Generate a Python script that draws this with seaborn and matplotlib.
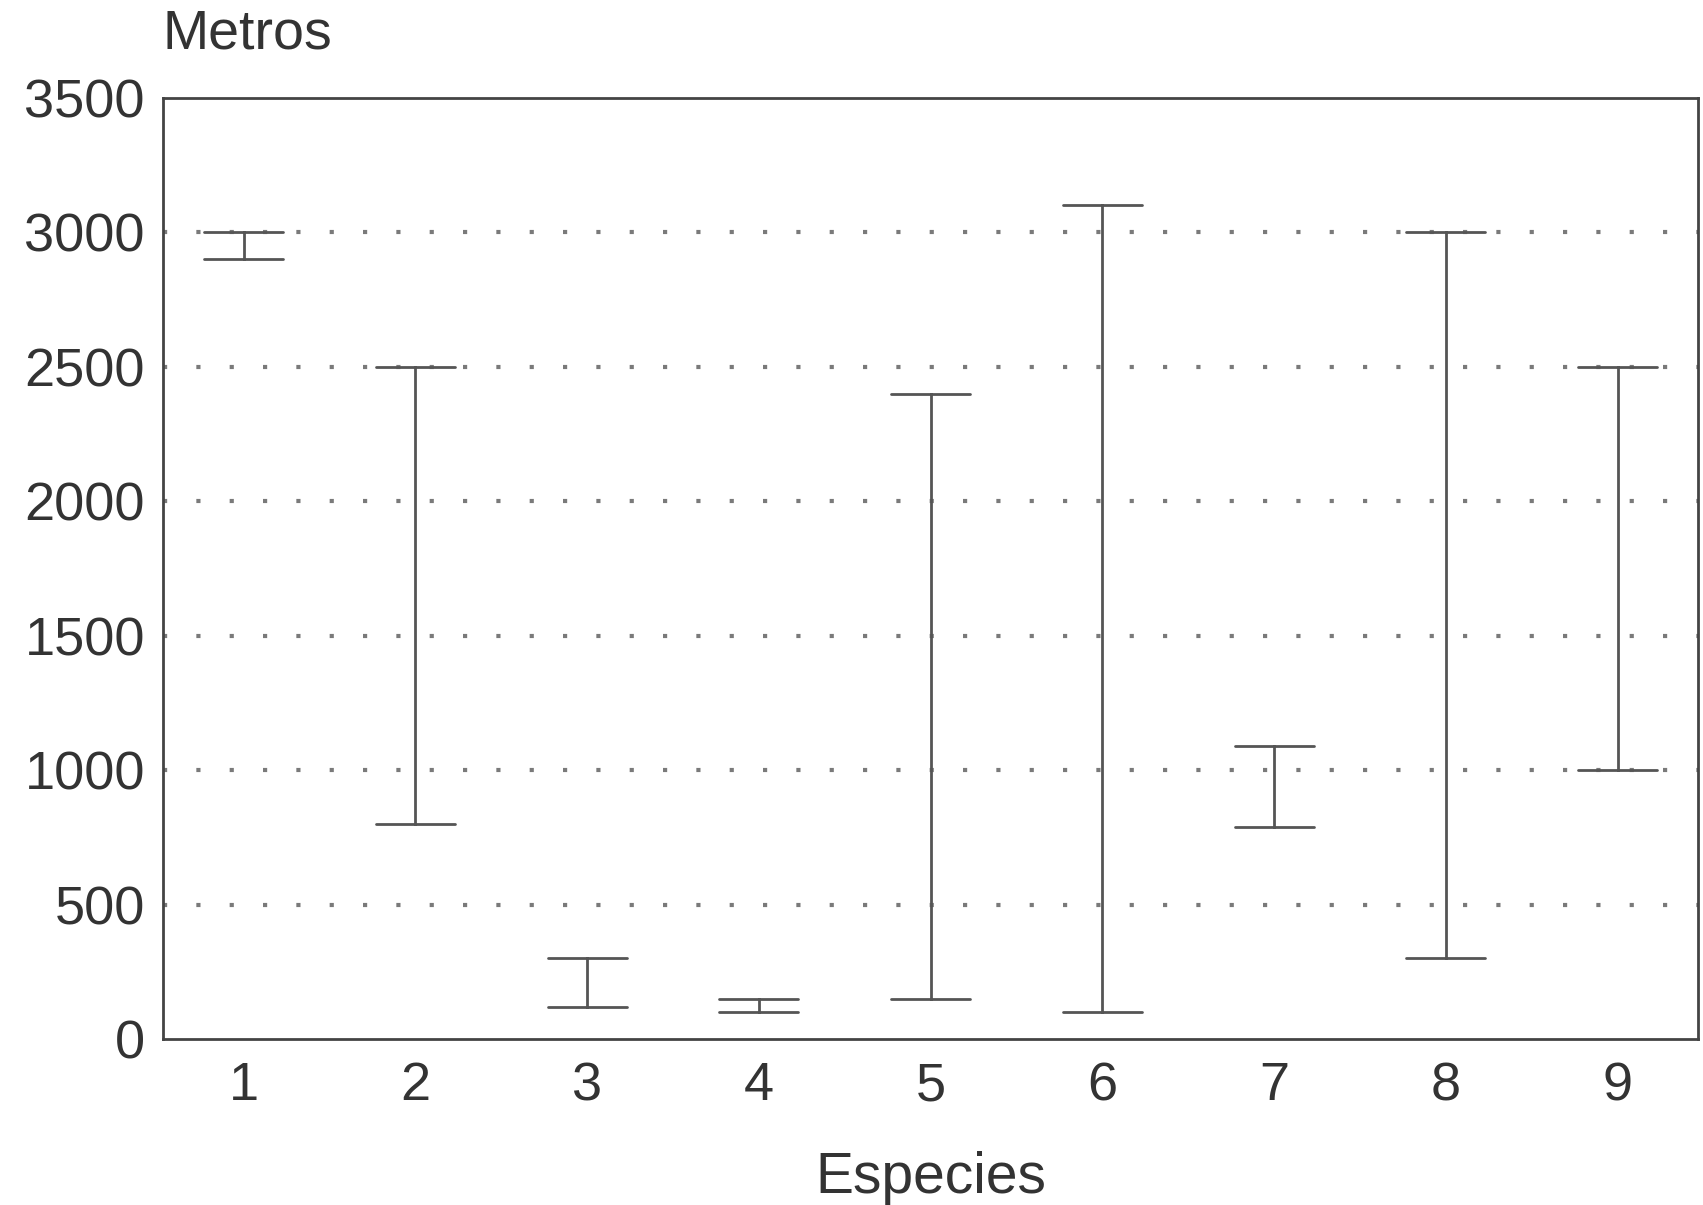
import matplotlib
matplotlib.use("Agg")
import matplotlib.pyplot as plt
import pandas as pd
import seaborn as sns

# rango altitudinal (min - max) por especie
especies = ["1", "2", "3", "4", "5", "6", "7", "8", "9"]
minimo = [2900, 800, 120, 100, 150, 100, 790, 300, 1000]
maximo = [3000, 2500, 300, 150, 2400, 3100, 1090, 3000, 2500]
yticks = [0, 500, 1000, 1500, 2000, 2500, 3000, 3500]

df = pd.DataFrame({"Especies": especies * 2, "Metros": minimo + maximo})

sns.set_theme(style="white")
plt.rcParams['font.family'] = ['Liberation Sans', 'DejaVu Sans']

fig = plt.figure(figsize=(17.03, 12.05), dpi=100)
ax = fig.add_axes([0.0957, 0.1378, 0.9015, 0.781])

sns.pointplot(data=df, x="Especies", y="Metros", order=especies,
              estimator="mean", errorbar=lambda v: (v.min(), v.max()),
              capsize=0.46, marker="", linestyle="none", color="#555555",
              err_kws={"linewidth": 2}, ax=ax)

ax.set_xlim(-0.47, 8.47)
ax.set_ylim(0, 3500)
ax.set_yticks(yticks)
ax.yaxis.grid(True, linestyle=(0, (1, 7)), linewidth=3, color="#7a7a7a")
ax.xaxis.grid(False)
# sin puntos sobre los bordes (0 y 3500)
gl = ax.get_ygridlines()
gl[0].set_visible(False)
gl[-1].set_visible(False)

for s in ax.spines.values():
    s.set_color("#444444")
    s.set_linewidth(2)

ax.tick_params(axis="both", length=0, labelsize=39, labelcolor="#333333")
ax.tick_params(axis="y", pad=13)
ax.tick_params(axis="x", pad=16)

ax.set_ylabel("")
ax.set_xlabel("Especies", fontsize=41, color="#333333")
ax.xaxis.set_label_coords(0.5, -0.119)
fig.text(0.0957, 0.971, "Metros", ha="left", va="center", fontsize=40, color="#333333")

fig.savefig("out.png", dpi=100)
